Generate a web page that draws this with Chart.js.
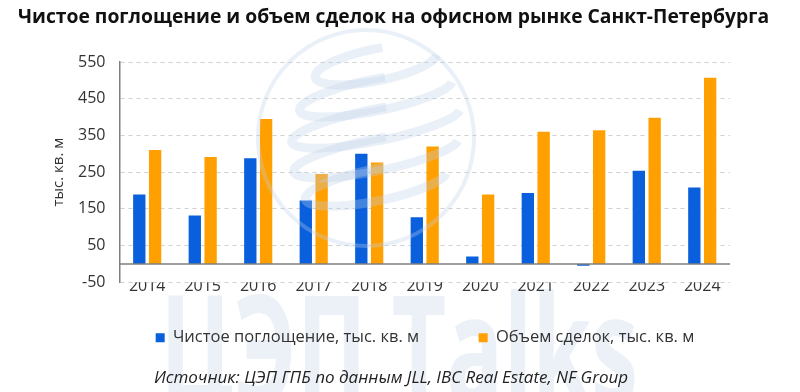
<!DOCTYPE html>
<html>
<head>
<meta charset="utf-8">
<script src="https://cdn.jsdelivr.net/npm/chart.js@4"></script>
<style>
  html, body { margin: 0; padding: 0; background: #ffffff; }
  #wrap { width: 800px; height: 392px; position: relative; }
</style>
</head>
<body>
<div id="wrap"><canvas id="officeChart"></canvas></div>
<script>
// Data
const years = ['2014', '2015', '2016', '2017', '2018', '2019', '2020', '2021', '2022', '2023', '2024'];
const netAbsorption = [189, 132, 288, 173, 300, 127, 20, 193, -5, 254, 208];
const dealVolume = [310, 291, 395, 245, 276, 320, 189, 360, 364, 398, 507];
const yTicks = [-50, 50, 150, 250, 350, 450, 550];

const seriesNames = ['Чистое поглощение, тыс. кв. м', 'Объем сделок, тыс. кв. м'];
const titleText = 'Чистое поглощение и объем сделок на офисном рынке Санкт-Петербурга';
const sourceText = 'Источник: ЦЭП ГПБ по данным JLL, IBC Real Estate, NF Group';
const colors = ['#0A60DC', '#FFA000'];
const fontFamily = "'Open Sans', 'Noto Sans', sans-serif";

// Faint watermark text behind the chart
const watermarkPlugin = {
    id: 'watermark',
    beforeDraw(chart) {
        const c = chart.ctx;
        c.save();
        c.fillStyle = '#ffffff';
        c.fillRect(0, 0, chart.width, chart.height);
        c.fillStyle = '#ecf1f8';
        c.textAlign = 'left';
        c.textBaseline = 'alphabetic';
        c.font = "bold 150px 'Open Sans', sans-serif";
        const w = c.measureText('ЦЭП Talks').width;
        c.translate(160, 404);
        c.scale(478 / w, 1);
        c.fillText('ЦЭП Talks', 0, 0);
        c.restore();
    },
    afterDatasetsDraw(chart) {
        // globe logo, translucent over the bars
        const c = chart.ctx;
        c.save();
        c.strokeStyle = 'rgba(190, 208, 232, 0.32)';
        c.lineWidth = 4;
        c.beginPath();
        c.arc(366, 138, 108, 0, Math.PI * 2);
        c.stroke();
        c.lineWidth = 9;
        const rings = [[-70, 62], [-40, 78], [-10, 86], [20, 84], [50, 72]];
        rings.forEach(([dy, rx]) => {
            c.beginPath();
            c.ellipse(376, 135 + dy, rx, 16, -0.2, Math.PI * 0.05, Math.PI * 1.55);
            c.stroke();
        });
        c.restore();
    }
};

// Title, source line and solid zero line
const decorPlugin = {
    id: 'decor',
    afterDatasetsDraw(chart) {
        const y = chart.scales.y.getPixelForValue(0);
        const area = chart.chartArea;
        const c = chart.ctx;
        c.save();
        c.strokeStyle = '#7f7f7f';
        c.lineWidth = 1.5;
        c.beginPath();
        c.moveTo(area.left, y);
        c.lineTo(area.right, y);
        c.stroke();
        c.restore();
    },
    afterDraw(chart) {
        const c = chart.ctx;
        c.save();
        c.textBaseline = 'middle';
        c.fillStyle = '#111111';
        c.textAlign = 'left';
        c.font = "bold 19.3px " + fontFamily;
        c.fillText(titleText, 18, 18);
        c.fillStyle = '#222222';
        c.textAlign = 'center';
        c.font = "italic 17px " + fontFamily;
        c.fillText(sourceText, 391, 378);
        c.restore();
    }
};

const ctx = document.getElementById('officeChart');
new Chart(ctx, {
    type: 'bar',
    data: {
        labels: years,
        datasets: [
            {
                label: seriesNames[0],
                data: netAbsorption,
                backgroundColor: colors[0],
                categoryPercentage: 0.57,
                barPercentage: 0.78
            },
            {
                label: seriesNames[1],
                data: dealVolume,
                backgroundColor: colors[1],
                categoryPercentage: 0.57,
                barPercentage: 0.78
            }
        ]
    },
    options: {
        responsive: true,
        maintainAspectRatio: false,
        animation: false,
        layout: { padding: { left: 50, right: 0, top: 62, bottom: 36 } },
        plugins: {
            title: { display: false },
            legend: {
                position: 'bottom',
                labels: {
                    color: '#333333',
                    boxWidth: 9,
                    boxHeight: 9,
                    padding: 10,
                    font: { family: fontFamily, size: 16.5 },
                    generateLabels(chart) {
                        const items = Chart.defaults.plugins.legend.labels.generateLabels(chart);
                        items[0].text = items[0].text + '\u2003\u2003\u2003';
                        return items;
                    }
                }
            },
            tooltip: { enabled: false }
        },
        scales: {
            x: {
                grid: { display: false, drawTicks: false },
                border: { display: false },
                ticks: {
                    color: '#333333',
                    padding: -5,
                    font: { family: fontFamily, size: 16 }
                },
                afterFit(scale) {
                    scale.height += 28;
                }
            },
            y: {
                min: -50,
                max: 550,
                afterBuildTicks(scale) {
                    scale.ticks = yTicks.map(v => ({ value: v }));
                },
                grid: { color: '#d0d0d0', drawTicks: false },
                border: { display: true, color: '#7f7f7f', width: 1.5, dash: [4, 4] },
                ticks: {
                    color: '#333333',
                    padding: 14,
                    font: { family: fontFamily, size: 16 }
                },
                title: {
                    display: true,
                    text: 'тыс. кв. м',
                    color: '#333333',
                    font: { family: fontFamily, size: 15 },
                    padding: { top: 0, bottom: -4 }
                }
            },
            y2: {
                position: 'right',
                display: true,
                grid: { display: false, drawTicks: false },
                border: { display: false },
                ticks: { display: false },
                afterFit(scale) {
                    scale.width = 70;
                }
            }
        }
    },
    plugins: [watermarkPlugin, decorPlugin]
});
</script>
</body>
</html>
